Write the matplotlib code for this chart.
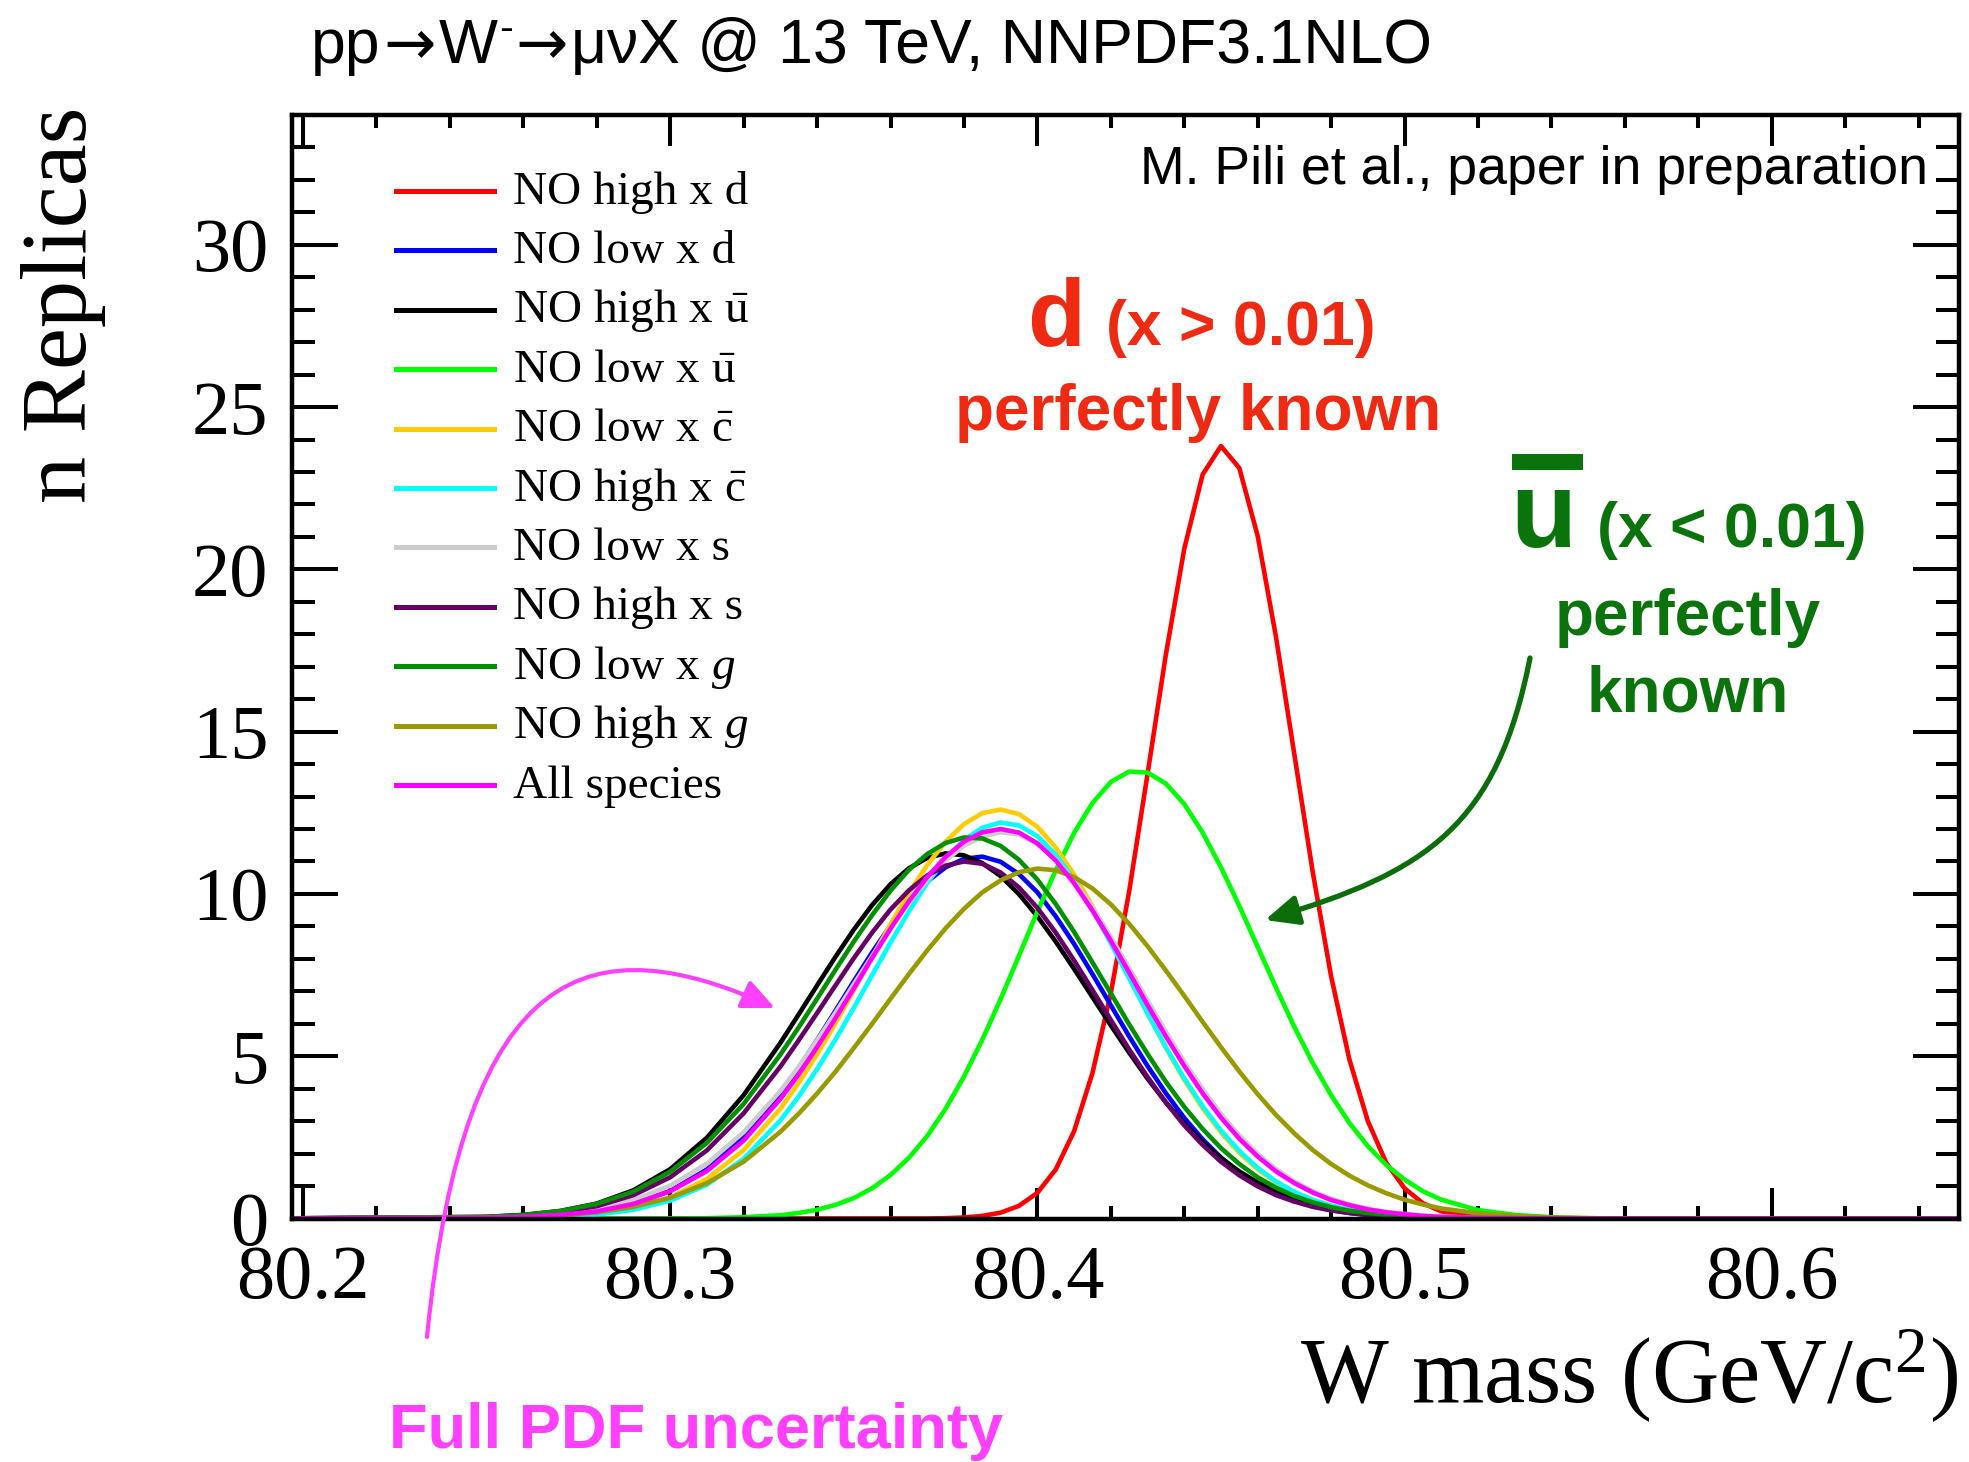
import matplotlib
matplotlib.use("Agg")
import matplotlib.pyplot as plt
from matplotlib.lines import Line2D
from matplotlib.patches import FancyArrowPatch
from matplotlib.path import Path
from matplotlib.text import Annotation
from matplotlib.ticker import MultipleLocator, FormatStrFormatter

plt.rcParams["font.family"] = ["Liberation Serif", "DejaVu Serif"]
plt.rcParams["mathtext.fontset"] = "custom"
plt.rcParams["mathtext.rm"] = "Liberation Serif"
plt.rcParams["mathtext.it"] = "Liberation Serif:italic"
plt.rcParams["mathtext.bf"] = "Liberation Serif:bold"

W, H = 1969, 1462
SANS = ["Liberation Sans", "DejaVu Sans"]

# W mass grid (GeV/c^2), finer around the peaks
mass = [80.19,
        80.25, 80.26, 80.27, 80.28, 80.29, 80.30, 80.31, 80.32, 80.33,
        80.335, 80.340, 80.345, 80.350, 80.355, 80.360, 80.365, 80.370, 80.375, 80.380, 80.385, 80.390,
        80.395, 80.400, 80.405, 80.410, 80.415, 80.420, 80.425, 80.430, 80.435, 80.440, 80.445, 80.450,
        80.455, 80.460, 80.465, 80.470, 80.475, 80.480, 80.485, 80.490, 80.495, 80.500, 80.505, 80.510,
        80.52, 80.53, 80.54, 80.55, 80.56,
        80.66]

# number of replicas per bin
no_high_d = [0,
             0, 0, 0, 0, 0, 0, 0, 0, 0,
             0, 0, 0, 0, 0, 0, 0, 0, 0.01, 0.03, 0.08, 0.18,
             0.39, 0.79, 1.51, 2.69, 4.48, 6.94, 10.08, 13.69, 17.38, 20.63, 22.92, 23.80,
             23.12, 21.03, 17.91, 14.29, 10.67, 7.46, 4.89, 3.00, 1.72, 0.93, 0.47, 0.22,
             0.04, 0.01, 0, 0, 0,
             0]
no_low_d = [0,
            0.02, 0.04, 0.10, 0.21, 0.44, 0.85, 1.51, 2.50, 3.84,
            4.64, 5.50, 6.40, 7.31, 8.20, 9.03, 9.77, 10.38, 10.82, 11.08, 11.15, 10.99,
            10.61, 10.05, 9.31, 8.46, 7.53, 6.57, 5.61, 4.70, 3.86, 3.10, 2.44, 1.88,
            1.42, 1.05, 0.77, 0.55, 0.38, 0.26, 0.17, 0.11, 0.07, 0.05, 0.03, 0.02,
            0.01, 0, 0, 0, 0,
            0]
no_high_ubar = [0,
                0.05, 0.11, 0.23, 0.46, 0.87, 1.52, 2.49, 3.80, 5.41,
                6.29, 7.18, 8.06, 8.90, 9.66, 10.30, 10.79, 11.11, 11.25, 11.19, 10.95, 10.55,
                9.99, 9.31, 8.53, 7.69, 6.82, 5.95, 5.11, 4.31, 3.58, 2.93, 2.35, 1.86,
                1.45, 1.11, 0.83, 0.62, 0.45, 0.32, 0.23, 0.16, 0.11, 0.07, 0.05, 0.03,
                0.01, 0, 0, 0, 0,
                0]
no_low_ubar = [0,
               0, 0, 0, 0, 0, 0, 0.01, 0.04, 0.10,
               0.17, 0.27, 0.42, 0.63, 0.93, 1.34, 1.87, 2.54, 3.38, 4.37, 5.51, 6.76,
               8.10, 9.45, 10.73, 11.88, 12.80, 13.45, 13.77, 13.74, 13.40, 12.77, 11.89, 10.82,
               9.63, 8.37, 7.11, 5.90, 4.79, 3.80, 2.94, 2.23, 1.65, 1.20, 0.84, 0.58,
               0.26, 0.11, 0.04, 0.01, 0,
               0]
no_low_cbar = [0,
               0.01, 0.03, 0.07, 0.15, 0.33, 0.65, 1.22, 2.11, 3.38,
               4.18, 5.06, 6.01, 7.03, 8.05, 9.07, 10.03, 10.89, 11.61, 12.15, 12.49, 12.60,
               12.46, 12.07, 11.43, 10.60, 9.62, 8.54, 7.42, 6.31, 5.25, 4.27, 3.40, 2.65,
               2.02, 1.51, 1.11, 0.79, 0.55, 0.38, 0.25, 0.17, 0.11, 0.07, 0.04, 0.02,
               0.01, 0, 0, 0, 0,
               0]
no_high_cbar = [0,
                0.01, 0.02, 0.05, 0.12, 0.27, 0.55, 1.04, 1.84, 3.02,
                3.76, 4.60, 5.51, 6.49, 7.50, 8.50, 9.46, 10.34, 11.08, 11.66, 12.04, 12.20,
                12.11, 11.78, 11.21, 10.44, 9.51, 8.48, 7.40, 6.32, 5.28, 4.32, 3.46, 2.71,
                2.08, 1.56, 1.14, 0.82, 0.58, 0.40, 0.27, 0.18, 0.11, 0.07, 0.04, 0.03,
                0.01, 0, 0, 0, 0,
                0]
no_low_s = [0,
            0.03, 0.07, 0.15, 0.30, 0.57, 1.01, 1.69, 2.66, 3.93,
            4.68, 5.49, 6.34, 7.22, 8.09, 8.94, 9.73, 10.44, 11.03, 11.48, 11.77, 11.90,
            11.83, 11.54, 11.06, 10.39, 9.59, 8.68, 7.71, 6.72, 5.75, 4.83, 3.99, 3.22,
            2.56, 1.99, 1.52, 1.14, 0.84, 0.61, 0.43, 0.30, 0.21, 0.14, 0.09, 0.06,
            0.02, 0.01, 0, 0, 0,
            0]
no_high_s = [0,
             0.04, 0.09, 0.19, 0.38, 0.72, 1.27, 2.10, 3.24, 4.68,
             5.49, 6.33, 7.18, 8.02, 8.81, 9.52, 10.11, 10.57, 10.87, 11.00, 10.93, 10.66,
             10.20, 9.57, 8.81, 7.95, 7.04, 6.12, 5.21, 4.36, 3.57, 2.87, 2.27, 1.75,
             1.33, 0.99, 0.72, 0.52, 0.36, 0.25, 0.17, 0.11, 0.07, 0.05, 0.03, 0.02,
             0.01, 0, 0, 0, 0,
             0]
no_low_g = [0,
            0.05, 0.11, 0.23, 0.45, 0.83, 1.44, 2.33, 3.53, 5.05,
            5.89, 6.77, 7.66, 8.53, 9.35, 10.10, 10.74, 11.23, 11.57, 11.74, 11.71, 11.48,
            11.05, 10.44, 9.69, 8.83, 7.89, 6.94, 5.98, 5.07, 4.21, 3.44, 2.76, 2.17,
            1.68, 1.27, 0.95, 0.69, 0.50, 0.35, 0.24, 0.17, 0.11, 0.07, 0.05, 0.03,
            0.01, 0, 0, 0, 0,
            0]
no_high_g = [0,
             0.02, 0.04, 0.09, 0.19, 0.36, 0.64, 1.09, 1.75, 2.67,
             3.23, 3.85, 4.52, 5.25, 6.00, 6.77, 7.53, 8.26, 8.94, 9.54, 10.05, 10.42,
             10.67, 10.78, 10.73, 10.52, 10.17, 9.68, 9.08, 8.39, 7.64, 6.86, 6.06, 5.28,
             4.53, 3.83, 3.19, 2.62, 2.11, 1.68, 1.32, 1.02, 0.78, 0.58, 0.43, 0.31,
             0.16, 0.08, 0.03, 0.01, 0,
             0]
all_species = [0,
               0.02, 0.05, 0.11, 0.22, 0.45, 0.84, 1.46, 2.40, 3.68,
               4.44, 5.28, 6.17, 7.09, 8.03, 8.93, 9.77, 10.52, 11.14, 11.61, 11.90, 12.00,
               11.89, 11.56, 11.03, 10.33, 9.49, 8.56, 7.58, 6.58, 5.61, 4.70, 3.86, 3.11,
               2.46, 1.91, 1.45, 1.09, 0.80, 0.57, 0.41, 0.28, 0.19, 0.13, 0.08, 0.05,
               0.02, 0.01, 0, 0, 0,
               0]

series = [no_high_d, no_low_d, no_high_ubar, no_low_ubar, no_low_cbar, no_high_cbar,
          no_low_s, no_high_s, no_low_g, no_high_g, all_species]
labels = ["NO high x d", "NO low x d",
          r"NO high x $\bar{\mathrm{u}}$", r"NO low x $\bar{\mathrm{u}}$",
          r"NO low x $\bar{\mathrm{c}}$", r"NO high x $\bar{\mathrm{c}}$",
          "NO low x s", "NO high x s",
          r"NO low x $g$", r"NO high x $g$", "All species"]
colors = ["#ff0000", "#0000ff", "#000000", "#00ff00", "#ffcc00", "#00ffff",
          "#cccccc", "#660066", "#009000", "#999900", "#ff00ff"]


def fx(px):
    return px / W


def fy(py):
    return 1 - py / H


fig = plt.figure(figsize=(W / 100, H / 100), dpi=100)
ax = fig.add_axes([fx(292), fy(1218.5), (1959 - 292) / W, (1218.5 - 115) / H])

for vals, col in zip(series, colors):
    ax.plot(mass, vals, color=col, lw=3.3, solid_joinstyle="round")

ax.set_xlim(80.197, 80.651)
ax.set_ylim(0, 34)
ax.xaxis.set_major_locator(MultipleLocator(0.1))
ax.xaxis.set_minor_locator(MultipleLocator(0.02))
ax.xaxis.set_major_formatter(FormatStrFormatter("%.1f"))
ax.yaxis.set_major_locator(MultipleLocator(5))
ax.yaxis.set_minor_locator(MultipleLocator(1))
ax.tick_params(which="both", direction="in", top=True, right=True, width=2.9, labelsize=55)
ax.tick_params(axis="x", which="major", length=22, pad=19)
ax.tick_params(axis="x", which="minor", length=9.7)
ax.tick_params(axis="y", which="major", length=33, pad=17)
ax.tick_params(axis="y", which="minor", length=16.5)
for s in ax.spines.values():
    s.set_linewidth(3.2)

# axis titles, ROOT style
fig.text(fx(1958), fy(1403), r"W mass (GeV/c$^{2}$)", fontsize=67, ha="right", va="baseline")
fig.text(fx(64), fy(107), "n Replicas", fontsize=68, rotation=90, ha="center", va="top")

# legend
for i, (lab, col) in enumerate(zip(labels, colors)):
    yy = 191 + i * 59.4
    fig.add_artist(Line2D([fx(396), fx(494)], [fy(yy), fy(yy)], color=col, lw=3.6,
                          transform=fig.transFigure))
    fig.text(fx(513), fy(yy + 12.6), lab, fontsize=34, ha="left", va="baseline")


# header: pieces chained one after the other (arrows from DejaVu, small superscript minus)
def chain(prev, base, s, family, size, dy=0, dx=2):
    t = Annotation(s, xy=(1, 0), xycoords=(prev, base), xytext=(dx, dy),
                   textcoords="offset points", fontsize=size, family=family,
                   ha="left", va="bottom")
    fig.add_artist(t)
    return t


t0 = fig.text(fx(311), fy(63), "pp", fontsize=45, family=SANS, va="baseline")
t1 = chain(t0, t0, "→", ["DejaVu Sans"], 45)
t2 = chain(t1, t0, "W", SANS, 45)
t3 = chain(t2, t0, "-", SANS, 30, dy=19, dx=1)
t4 = chain(t3, t0, "→", ["DejaVu Sans"], 45)
t5 = chain(t4, t0, "μνX @ 13 TeV, NNPDF3.1NLO", SANS, 45)

fig.text(fx(1928), fy(184), "M. Pili et al., paper in preparation", fontsize=38.6, family=SANS,
         ha="right", va="baseline")

# d annotation
red = "#ee2a12"
fig.text(fx(1027), fy(345), "d", fontsize=68, family=SANS, weight="bold", color=red, va="baseline")
fig.text(fx(1106), fy(345), "(x > 0.01)", fontsize=45, family=SANS, weight="bold", color=red,
         va="baseline")
fig.text(fx(1198), fy(430), "perfectly known", fontsize=46, family=SANS, weight="bold", color=red,
         ha="center", va="baseline")

# ubar annotation
green = "#0b730b"
fig.text(fx(1510), fy(547), "u", fontsize=78, family=SANS, weight="bold", color=green, va="baseline")
fig.add_artist(Line2D([fx(1512), fx(1583)], [fy(462), fy(462)], color=green, lw=11.5,
                      solid_capstyle="butt", transform=fig.transFigure))
fig.text(fx(1597), fy(547), "(x < 0.01)", fontsize=45, family=SANS, weight="bold", color=green,
         va="baseline")
fig.text(fx(1688), fy(635), "perfectly", fontsize=46, family=SANS, weight="bold", color=green,
         ha="center", va="baseline")
fig.text(fx(1688), fy(711), "known", fontsize=46, family=SANS, weight="bold", color=green,
         ha="center", va="baseline")


def curved_arrow(pts, col, lw):
    verts = [(fx(x), fy(y)) for x, y in pts]
    path = Path(verts, [Path.MOVETO, Path.CURVE4, Path.CURVE4, Path.CURVE4])
    arr = FancyArrowPatch(path=path, arrowstyle="-|>,head_length=2.0,head_width=0.9",
                          mutation_scale=10, color=col, lw=lw, shrinkA=0, shrinkB=0,
                          transform=fig.transFigure)
    fig.add_artist(arr)


curved_arrow([(1530, 658), (1497, 825), (1428, 872), (1265, 920)], "#0b6e0b", 3.8)
curved_arrow([(427, 1337), (465, 957), (593, 926), (775, 1008)], "#ff40ff", 3.0)

fig.text(fx(389), fy(1448), "Full PDF uncertainty", fontsize=45.5, family=SANS, weight="bold",
         color="#ff40ff", va="baseline")

fig.savefig("out.png", dpi=100)
